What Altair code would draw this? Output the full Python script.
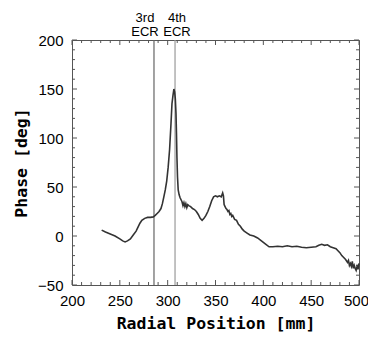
import altair as alt
import pandas as pd

# ---- data ----
radial_mm = [231, 235, 240, 245, 250, 253, 255.5, 258, 261, 264, 267, 269, 271, 273, 276,
             279, 282, 285, 287, 289, 291, 293, 294.5, 296, 297.5, 299, 300.5, 302, 303.5,
             304.5, 305.5, 306.5, 307.3, 308, 308.7, 309.2, 309.7, 310.3, 311, 312, 313, 314,
             315, 316, 317, 318, 319, 320, 321, 322, 324, 326, 328, 330, 332, 334, 336, 338,
             340, 342, 344, 346, 348, 350, 352, 354, 356, 357.5, 358.3, 359, 360, 361, 362,
             363, 364, 365, 366, 367, 368, 370, 372, 374, 376, 378, 380, 383, 386, 390, 394,
             398, 402, 406, 410, 415, 420, 425, 430, 435, 440, 445, 450, 455, 458, 461, 464,
             467, 470, 473, 476, 478, 480, 482, 484, 486, 488, 489, 490, 491, 492, 493, 494,
             495, 496, 497, 498, 499, 500]
phase_deg = [6, 4, 2, 0, -3, -5, -6, -5, -3, 1, 5, 9, 13, 16, 18,
             19, 19, 19.5, 21, 23, 25, 28, 33, 40, 47, 56, 70, 88, 115,
             135, 143, 150, 147, 140, 125, 105, 80, 60, 47, 42, 39, 37,
             35, 31, 34, 30, 33, 29, 32, 31, 30, 28, 27, 25, 22, 18, 16, 18,
             21, 25, 30, 36, 40, 41, 40, 41, 40, 44, 41, 32, 30, 28, 27,
             25, 26, 22, 23, 20, 21, 17, 16, 12, 10, 7, 5, 3, 1, 0, -2,
             -5, -8, -11, -11, -10.5, -11, -10, -11, -10.5, -11.5, -12, -11.5, -11, -9.5, -8.5, -9.5,
             -9, -11, -12, -13, -15, -17, -20, -22, -24, -27, -25, -30, -28, -31, -26, -33,
             -30, -33, -35, -31, -34, -28]

ecr_positions = [285.7, 307.7]
ecr_line1 = ["3rd", "4th"]
ecr_line2 = ["ECR", "ECR"]

x_labels = [200, 250, 300, 350, 400, 450, 500]
y_labels = [-50, 0, 50, 100, 150, 200]
x_minor = [v for v in range(200, 501, 10) if v % 50 != 0]
y_minor = [v for v in range(-50, 201, 10) if v % 50 != 0]

# ---- styles ----
W, H = 287, 245
LABEL_FONT = "Liberation Sans"
TITLE_FONT = "DejaVu Sans Mono"
FRAME = "#555555"
ecr_colors = ["#666666", "#9a9a9a"]
ecr_dx = [-9, 2]

xs = alt.Scale(domain=[200, 500], nice=False, zero=False)
ys = alt.Scale(domain=[-50, 200], nice=False, zero=False)

x_axis = alt.Axis(values=x_labels, title="Radial Position [mm]", grid=False, domain=False,
                  ticks=False, tickSize=0, labelPadding=8, labelFont=LABEL_FONT,
                  labelFontSize=15, labelColor="black", titleFont=TITLE_FONT,
                  titleFontSize=16.5, titleFontWeight="bold", titleColor="black",
                  titlePadding=7, labelFlush=False,
                  labelOffset=alt.expr("datum.value === 500 ? -3 : 0"))
y_axis = alt.Axis(values=y_labels, title="Phase [deg]", grid=False, domain=False,
                  ticks=False, tickSize=0, labelPadding=9, labelFont=LABEL_FONT,
                  labelFontSize=15, labelColor="black", titleFont=TITLE_FONT,
                  titleFontSize=16.5, titleFontWeight="bold", titleColor="black",
                  titlePadding=8, labelFlush=False)


def X(field="r"):
    return alt.X(f"{field}:Q", scale=xs, axis=x_axis)


def Y(field="p"):
    return alt.Y(f"{field}:Q", scale=ys, axis=y_axis)


curve_df = pd.DataFrame({"r": radial_mm, "p": phase_deg})
curve = alt.Chart(curve_df).mark_line(color="#333333", strokeWidth=1.6).encode(x=X(), y=Y())

layers = []


def xtick_layer(vals, y0, y1):
    return alt.Chart(pd.DataFrame({"r": vals})).mark_rule(color=FRAME, strokeWidth=1).encode(
        x=X(), y=alt.value(y0), y2=alt.value(y1))


def ytick_layer(vals, x0, x1):
    return alt.Chart(pd.DataFrame({"p": vals})).mark_rule(color=FRAME, strokeWidth=1).encode(
        y=Y(), x=alt.value(x0), x2=alt.value(x1))


layers += [
    xtick_layer(x_minor, H, H - 3), xtick_layer(x_labels, H, H - 5),
    xtick_layer(x_minor, 0, 3), xtick_layer(x_labels, 0, 5),
    ytick_layer(y_minor, 0, 3), ytick_layer(y_labels, 0, 5),
    ytick_layer(y_minor, W, W - 3), ytick_layer(y_labels, W, W - 5),
]

for i in range(len(ecr_positions)):
    d = pd.DataFrame({"r": [ecr_positions[i]], "t1": [ecr_line1[i]], "t2": [ecr_line2[i]]})
    base = alt.Chart(d)
    layers.append(base.mark_rule(color=ecr_colors[i], strokeWidth=1.2).encode(x=X()))
    layers.append(base.mark_text(font=LABEL_FONT, fontSize=13, dx=ecr_dx[i], color="black",
                                 baseline="middle", align="center").encode(
        x=X(), y=alt.value(-22), text="t1:N"))
    layers.append(base.mark_text(font=LABEL_FONT, fontSize=13, dx=ecr_dx[i], color="black",
                                 baseline="middle", align="center").encode(
        x=X(), y=alt.value(-8), text="t2:N"))

chart = alt.layer(*layers, curve).properties(
    width=W, height=H,
    padding={"left": 64, "top": 32, "right": 9, "bottom": 47},
    autosize="none",
).configure_view(stroke=FRAME, strokeWidth=1)

chart.save("out.html", embed_options={"renderer": "svg", "actions": False})
